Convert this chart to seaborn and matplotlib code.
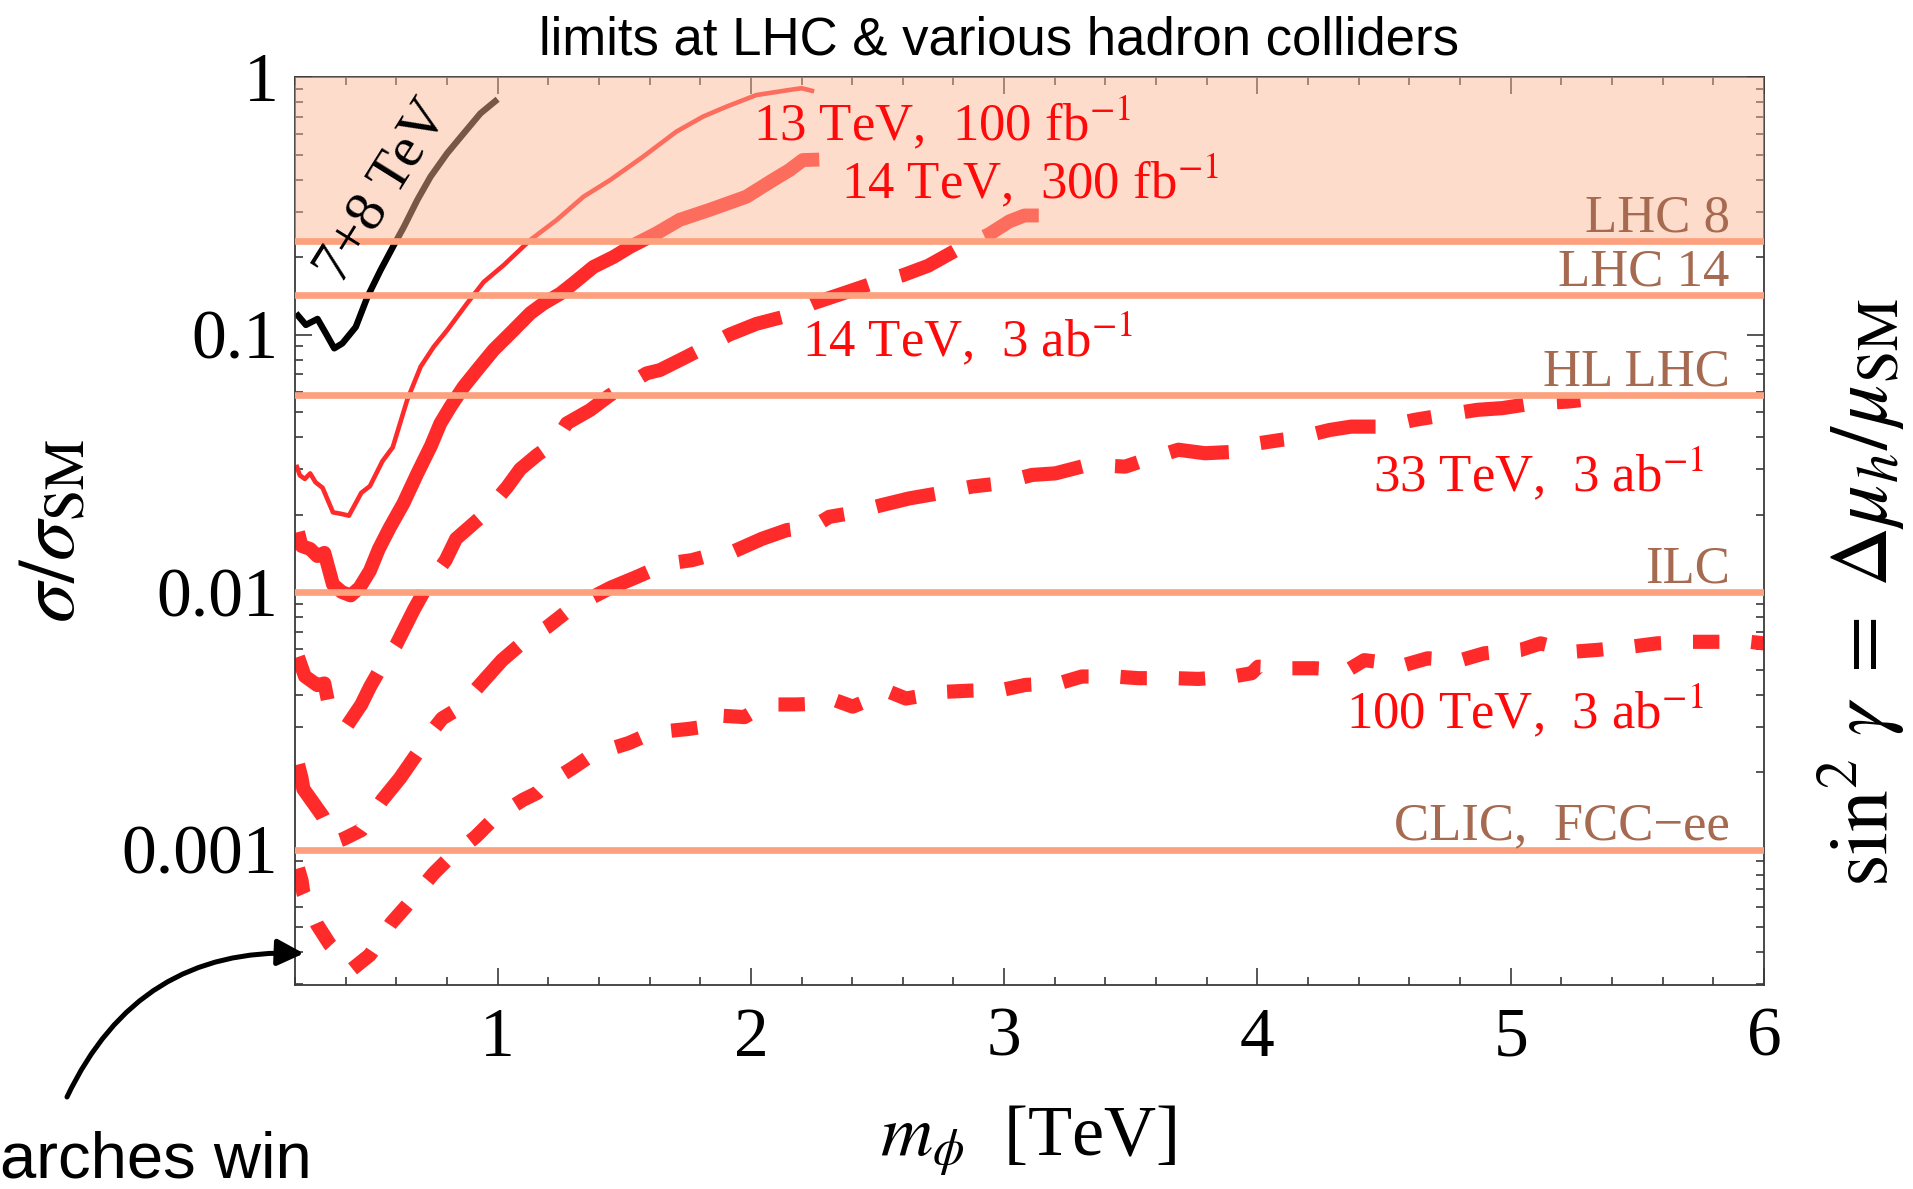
import numpy as np
import matplotlib
matplotlib.use("Agg")
import matplotlib.pyplot as plt
import seaborn as sns
from matplotlib.ticker import LogLocator, MultipleLocator, NullFormatter

# ---- limit curves: scalar mass m_phi [TeV] vs sigma/sigma_SM ----
m_78 = [0.204, 0.243, 0.289, 0.322, 0.355, 0.387, 0.440, 0.486, 0.538, 0.591,
        0.630, 0.683, 0.735, 0.801, 0.866, 0.932, 1.0]
s_78 = [0.121, 0.109, 0.115, 0.101, 0.0884, 0.0924, 0.107, 0.140, 0.178, 0.223,
        0.262, 0.333, 0.410, 0.506, 0.604, 0.722, 0.82]

m_13 = [0.205, 0.219, 0.239, 0.260, 0.281, 0.309, 0.350, 0.385, 0.413, 0.462,
        0.496, 0.545, 0.586, 0.643, 0.696, 0.748, 0.801, 0.879, 0.945, 1.024,
        1.129, 1.234, 1.339, 1.444, 1.575, 1.706, 1.811, 1.903, 2.021, 2.152,
        2.20, 2.25]
s_13 = [0.0312, 0.0284, 0.0275, 0.0289, 0.0267, 0.0254, 0.0204, 0.0201, 0.0198, 0.0243,
        0.0258, 0.0322, 0.0365, 0.0557, 0.0750, 0.0897, 0.104, 0.132, 0.160, 0.186,
        0.233, 0.279, 0.343, 0.398, 0.491, 0.614, 0.702, 0.767, 0.851, 0.891,
        0.905, 0.88]

m_14a = [0.212, 0.226, 0.260, 0.288, 0.316, 0.350, 0.385, 0.420, 0.455, 0.496,
         0.531, 0.573, 0.628, 0.684, 0.737, 0.774, 0.814, 0.866, 0.919, 0.984,
         1.050, 1.129, 1.181, 1.247, 1.299, 1.378, 1.457, 1.523, 1.627, 1.719,
         1.837, 1.982, 2.087, 2.152, 2.205, 2.27]
s_14a = [0.0171, 0.0151, 0.0147, 0.0138, 0.0142, 0.0107, 0.0100, 0.0097, 0.0104, 0.0121,
         0.0147, 0.0177, 0.0221, 0.029, 0.037, 0.0452, 0.0525, 0.0627, 0.0728, 0.0871,
         0.101, 0.121, 0.132, 0.144, 0.158, 0.183, 0.200, 0.219, 0.247, 0.279,
         0.305, 0.343, 0.398, 0.435, 0.476, 0.478]

m_14b = [0.212, 0.239, 0.288, 0.316, 0.330, 0.406, 0.462, 0.496, 0.53, 0.600,
         0.670, 0.72, 0.795, 0.836, 0.948, 1.038, 1.089, 1.155, 1.225, 1.273,
         1.365, 1.444, 1.588, 1.641, 1.746, 1.916, 2.021, 2.126, 2.244, 2.35,
         2.48, 2.60, 2.70, 2.83, 2.94, 3.02, 3.08, 3.16]
s_14b = [0.0056, 0.00471, 0.00435, 0.00442, 0.00378, 0.00303, 0.00366, 0.00428, 0.0049, 0.00625,
         0.00857, 0.0105, 0.0133, 0.0161, 0.0201, 0.0256, 0.0300, 0.0340, 0.0380, 0.0452,
         0.0509, 0.0582, 0.0707, 0.0728, 0.0820, 0.1000, 0.110, 0.117, 0.132, 0.143,
         0.158, 0.170, 0.185, 0.218, 0.245, 0.275, 0.29, 0.29]

m_33 = [0.212, 0.226, 0.233, 0.309, 0.357, 0.392, 0.462, 0.545, 0.614, 0.691,
        0.725, 0.781, 0.850, 0.948, 1.017, 1.114, 1.197, 1.267, 1.322, 1.447,
        1.545, 1.669, 1.767, 1.850, 1.919, 2.044, 2.142, 2.244, 2.310, 2.389,
        2.520, 2.625, 2.743, 2.874, 2.979, 3.110, 3.202, 3.333, 3.478, 3.557,
        3.688, 3.793, 3.924, 4.003, 4.094, 4.153, 4.285, 4.370, 4.501, 4.619,
        4.737, 4.868, 4.967, 5.092, 5.223, 5.35]
s_33 = [0.00214, 0.00189, 0.00172, 0.00135, 0.00107, 0.00110, 0.00119, 0.00156, 0.00189, 0.00243,
        0.00275, 0.00323, 0.00355, 0.00456, 0.00543, 0.00656, 0.00733, 0.00830, 0.00899, 0.0104,
        0.0114, 0.0129, 0.0133, 0.0140, 0.0142, 0.0161, 0.0174, 0.0179, 0.0196, 0.0202,
        0.0218, 0.0231, 0.0242, 0.0257, 0.0264, 0.0285, 0.0289, 0.0312, 0.0307, 0.0326,
        0.0357, 0.0346, 0.0351, 0.0378, 0.0390, 0.0396, 0.0426, 0.0439, 0.0439, 0.0466,
        0.0487, 0.0510, 0.0518, 0.0541, 0.0549, 0.0566]

m_100 = [0.212, 0.226, 0.233, 0.288, 0.337, 0.427, 0.496, 0.580, 0.642, 0.746,
         0.809, 0.913, 0.989, 1.100, 1.156, 1.184, 1.295, 1.378, 1.517, 1.614,
         1.753, 1.794, 1.836, 1.975, 2.058, 2.179, 2.252, 2.330, 2.402, 2.546,
         2.612, 2.769, 2.861, 2.992, 3.084, 3.215, 3.307, 3.438, 3.530, 3.675,
         3.767, 3.904, 3.977, 4.003, 4.134, 4.225, 4.357, 4.422, 4.580, 4.672,
         4.803, 4.895, 5.039, 5.118, 5.249, 5.341, 5.478, 5.577, 5.715, 5.807,
         5.944, 6.0]
s_100 = [0.000845, 0.000757, 0.000678, 0.000510, 0.000429, 0.000344, 0.000390, 0.000518, 0.000607, 0.000805,
         0.000928, 0.00112, 0.00133, 0.00156, 0.00166, 0.00177, 0.00207, 0.00235, 0.00259, 0.00285,
         0.00294, 0.00298, 0.00333, 0.00327, 0.00366, 0.00366, 0.00368, 0.00381, 0.00359, 0.00410,
         0.00386, 0.00410, 0.00414, 0.00417, 0.00436, 0.00442, 0.00470, 0.00470, 0.00463, 0.00463,
         0.00460, 0.00470, 0.00484, 0.00513, 0.00506, 0.00506, 0.00498, 0.00544, 0.00521, 0.00553,
         0.00544, 0.00578, 0.00596, 0.00632, 0.00587, 0.00596, 0.00614, 0.00632, 0.00641, 0.00641,
         0.00641, 0.00632]

# ---- Higgs-coupling reach of various colliders (sin^2 gamma) ----
coll_names = ["LHC 8", "LHC 14", "HL LHC", "ILC", "CLIC,  FCC\u2212ee"]
coll_vals = [0.231, 0.1425, 0.0583, 0.01, 0.001]

curve_labels = ["13 TeV,  100 fb$^{-1}$", "14 TeV,  300 fb$^{-1}$", "14 TeV,  3 ab$^{-1}$",
                "33 TeV,  3 ab$^{-1}$", "100 TeV,  3 ab$^{-1}$"]

x_ticks = [1, 2, 3, 4, 5, 6]
y_ticks = [1e-3, 1e-2, 1e-1, 1.0]
y_ticklabels = ["0.001", "0.01", "0.1", "1"]

# ---- style ----
sns.set_theme(style="ticks")
plt.rcParams.update({
    "font.family": ["Liberation Serif", "DejaVu Serif"],
    "mathtext.fontset": "stix",
    "lines.scale_dashes": False,
    "text.color": "black",
    "axes.edgecolor": "#3a3a3a",
    "axes.linewidth": 1.3,
    "xtick.color": "#3a3a3a",
    "ytick.color": "#3a3a3a",
    "xtick.labelcolor": "black",
    "ytick.labelcolor": "black",
})

RED = "#FF2B2B"
TXT_RED = "#FF0A0A"
BAND = "#FCA07E"
BROWN = "#A56A50"

fig = plt.figure(figsize=(19.13, 11.89), dpi=100)
ax = fig.add_axes([0.1542, 0.1716, 0.7679, 0.7636])
ax.set_yscale("log")
ax.set_xlim(0.2, 6.0)
ax.set_ylim(2.98e-4, 1.0)


def draw(m, s, color, lw, dashes=None):
    sns.lineplot(x=m, y=s, ax=ax, color=color, lw=lw, sort=False,
                 estimator=None, legend=False, zorder=2)
    line = ax.lines[-1]
    line.set_solid_joinstyle("round")
    line.set_solid_capstyle("butt")
    if dashes is not None:
        line.set_dashes(dashes)
        line.set_dash_capstyle("butt")
        line.set_dash_joinstyle("round")


draw(m_78, s_78, "black", 4.6)
draw(m_13, s_13, RED, 3.3)
draw(m_14a, s_14a, RED, 10.0)
draw(m_14b, s_14b, RED, 10.0, dashes=(43, 24))
draw(m_33, s_33, RED, 10.2, dashes=(43, 24, 17, 24))
draw(m_100, s_100, RED, 10.2, dashes=(19, 23))

# region already excluded by LHC 8 coupling measurements
ax.axhspan(coll_vals[0], 1.0, facecolor=(251 / 255, 183 / 255, 148 / 255),
           alpha=0.48, lw=0, zorder=3)

for name, v in zip(coll_names, coll_vals):
    ax.axhline(v, color=BAND, lw=4.8, zorder=4)
    ax.annotate(name, xy=(5.865, v), xytext=(0, 7), textcoords="offset points",
                ha="right", va="baseline", color=BROWN, fontsize=38, zorder=6)

ax.text(2.007, 0.569, curve_labels[0], color=TXT_RED, fontsize=38, ha="left", va="baseline", zorder=6)
ax.text(2.357, 0.339, curve_labels[1], color=TXT_RED, fontsize=38, ha="left", va="baseline", zorder=6)
ax.text(2.203, 0.0825, curve_labels[2], color=TXT_RED, fontsize=38, ha="left", va="baseline", zorder=6)
ax.text(5.763, 0.0245, curve_labels[3], color=TXT_RED, fontsize=38, ha="right", va="baseline", zorder=6)
ax.text(5.763, 0.00296, curve_labels[4], color=TXT_RED, fontsize=38, ha="right", va="baseline", zorder=6)
ax.text(0.545, 0.36, "7+8 TeV", rotation=58, rotation_mode="anchor", ha="center",
        va="center", fontsize=42, color="black", zorder=6)

# ticks
ax.set_xticks(x_ticks)
ax.set_xticklabels([str(t) for t in x_ticks])
ax.xaxis.set_minor_locator(MultipleLocator(0.2))
ax.set_yticks(y_ticks)
ax.set_yticklabels(y_ticklabels)
ax.yaxis.set_minor_locator(LogLocator(base=10, subs=np.arange(2, 10)))
ax.yaxis.set_minor_formatter(NullFormatter())
ax.tick_params(which="both", direction="in", top=True, right=True, width=1.2)
ax.tick_params(which="major", length=12)
ax.tick_params(which="minor", length=6)
ax.tick_params(axis="x", which="major", labelsize=50, pad=16)
ax.tick_params(axis="y", which="major", labelsize=50, pad=12)

# axis titles
fig.text(0.0288, 0.5534, r"$\sigma/\sigma_{\rm SM}$", rotation=90, fontsize=58,
         ha="center", va="center")
fig.text(0.9735, 0.502, r"$\sin^2\,\gamma\;=\;\Delta\mu_h/\mu_{\rm SM}$", rotation=90,
         fontsize=60, ha="center", va="center")
fig.text(0.5375, 0.0404, r"$m_\phi$  [TeV]", fontsize=52, ha="center", va="center")
fig.text(0.522, 0.966, "limits at LHC & various hadron colliders",
         family=["Liberation Sans", "DejaVu Sans"], fontsize=38, ha="center", va="center")

# direct-search annotation
fig.text(0.0, 0.010, "arches win", family=["Liberation Sans", "DejaVu Sans"],
         fontsize=47, ha="left", va="baseline")
ax.annotate("", xy=(0.235, 3.95e-4), xycoords="data",
            xytext=(67 / 1913, 1 - 1097 / 1189), textcoords="figure fraction",
            arrowprops=dict(arrowstyle="-|>", color="black", lw=3.6, mutation_scale=40,
                            connectionstyle="arc3,rad=-0.33", shrinkA=0, shrinkB=0),
            annotation_clip=False, zorder=7)

fig.savefig("out.png", dpi=100)
